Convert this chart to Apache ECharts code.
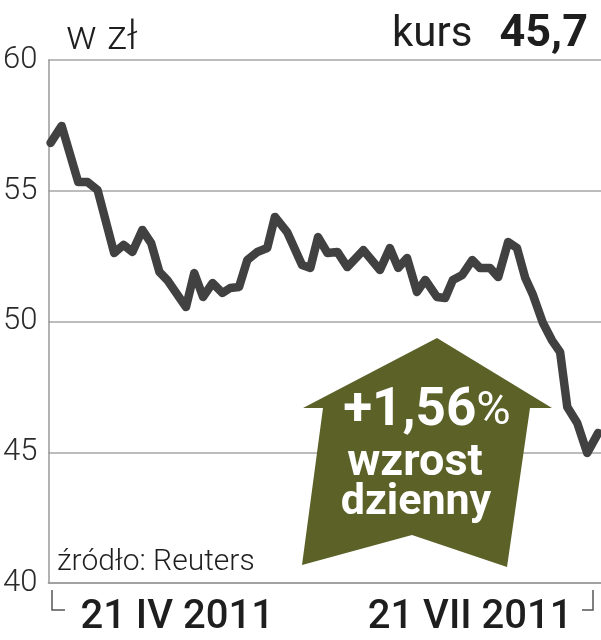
<!DOCTYPE html>
<html>
<head>
<meta charset="utf-8">
<script src="https://cdn.jsdelivr.net/npm/echarts@6/dist/echarts.min.js"></script>
<style>
  html, body { margin: 0; padding: 0; background: #fff; }
  #chart { width: 601px; height: 640px; }
</style>
</head>
<body>
<div id="chart"></div>
<script>
  // sesje (oś x, 0..100) i kurs w zł
  const sessions = [0.4, 2.4, 5.4, 7.1, 8.9, 11.9, 13.6, 15.2, 17.0, 18.6, 20.1, 21.5, 24.9, 26.4, 28.0,
    29.7, 31.5, 32.9, 34.5, 36.0, 37.8, 39.6, 41.0, 43.2, 45.9, 47.4, 48.8, 50.5, 52.3, 54.1, 57.0,
    60.0, 61.8, 63.3, 64.9, 66.7, 68.2, 70.3, 71.8, 73.2, 74.9, 76.7, 78.1, 79.9, 81.4, 83.2, 84.8,
    86.3, 87.7, 89.5, 91.1, 92.6, 93.9, 95.7, 97.5, 99.5];
  const prices = [56.83, 57.48, 55.33, 55.33, 55.03, 52.62, 52.93, 52.66, 53.5, 53.0, 51.89, 51.59, 50.55, 51.85, 50.94,
    51.47, 51.09, 51.28, 51.32, 52.35, 52.66, 52.81, 54.0, 53.42, 52.16, 52.05, 53.23, 52.62, 52.66, 52.08, 52.73,
    51.97, 52.81, 52.05, 52.43, 51.13, 51.59, 50.94, 50.9, 51.59, 51.78, 52.35, 52.05, 52.05, 51.7, 53.04, 52.81,
    51.66, 51.01, 49.94, 49.29, 48.83, 46.73, 46.12, 44.97, 45.74];

  const yTicks = [40, 45, 50, 55, 60];
  const dateTickValues = [23.3, 76.3];
  const dateTickLabels = ['21 IV 2011', '21 VII 2011'];

  const lastPrice = '45,7';
  const dailyChange = '+1,56';

  const chart = echarts.init(document.getElementById('chart'));

  const option = {
    animation: false,
    grid: { left: 48, right: 0, top: 60, bottom: 57 },
    xAxis: {
      type: 'value',
      min: 0,
      max: 100,
      axisLine: { show: true, lineStyle: { color: '#999', width: 1.5 } },
      axisTick: { show: false },
      splitLine: { show: false },
      axisLabel: {
        customValues: dateTickValues,
        formatter: (v) => dateTickLabels[dateTickValues.indexOf(v)] || '',
        margin: 15,
        fontFamily: 'Roboto',
        fontWeight: 500,
        fontSize: 40,
        lineHeight: 40,
        color: '#1e1e1e',
      },
    },
    yAxis: {
      type: 'value',
      min: yTicks[0],
      max: yTicks[yTicks.length - 1],
      interval: 5,
      axisLine: { show: true, lineStyle: { color: '#999', width: 1.5 } },
      axisTick: { show: false },
      splitLine: { show: true, lineStyle: { color: '#a6a6a6', width: 1.5 } },
      axisLabel: {
        margin: 11,
        fontFamily: 'Roboto',
        fontWeight: 300,
        fontSize: 31,
        color: '#2a2a2a',
      },
    },
    series: [
      {
        type: 'line',
        data: sessions.map((s, i) => [s, prices[i]]),
        showSymbol: false,
        symbol: 'none',
        clip: false,
        lineStyle: { color: '#414141', width: 8.5, join: 'round', cap: 'round' },
      },
    ],
    graphic: [
      // nagłówek
      { type: 'text', x: 66, y: 39, style: { text: 'w zł', font: '300 41px Roboto', fill: '#1e1e1e', verticalAlign: 'middle' } },
      { type: 'text', x: 392, y: 35, style: { text: 'kurs', font: '400 42px Roboto', fill: '#1e1e1e', verticalAlign: 'middle' } },
      { type: 'text', x: 588, y: 35, style: { text: lastPrice, font: '700 45px Roboto', fill: '#1e1e1e', align: 'right', verticalAlign: 'middle' } },
      // źródło
      { type: 'text', x: 57, y: 562, style: { text: 'źródło: Reuters', font: '300 30px Roboto', fill: '#1e1e1e', verticalAlign: 'middle' } },
      // nawiasy zakresu dat
      { type: 'polyline', shape: { points: [[52, 590], [52, 610], [65, 610]] }, style: { stroke: '#555', lineWidth: 1.5, fill: null } },
      { type: 'polyline', shape: { points: [[582, 610], [593, 610], [593, 590]] }, style: { stroke: '#555', lineWidth: 1.5, fill: null } },
      // strzałka
      {
        type: 'polygon',
        z: 10,
        shape: { points: [[437, 338], [552, 408], [530, 408], [507, 567], [412, 535], [302, 565], [323, 408], [303, 408]] },
        style: { fill: '#5b6127' },
      },
      {
        type: 'text', z: 11, x: 427, y: 412,
        style: {
          text: '{b|' + dailyChange + '}{p|%}',
          align: 'center', verticalAlign: 'middle',
          rich: {
            b: { fontFamily: 'Roboto', fontWeight: 700, fontSize: 53, fill: '#fff', color: '#fff' },
            p: { fontFamily: 'Roboto', fontWeight: 400, fontSize: 47, fill: '#fff', color: '#fff' },
          },
        },
      },
      { type: 'text', z: 11, x: 415, y: 464, style: { text: 'wzrost', font: '700 45px Roboto', fill: '#fff', align: 'center', verticalAlign: 'middle' } },
      { type: 'text', z: 11, x: 416, y: 503, style: { text: 'dzienny', font: '700 43px Roboto', fill: '#fff', align: 'center', verticalAlign: 'middle' } },
    ],
  };

  chart.setOption(option);
</script>
</body>
</html>
